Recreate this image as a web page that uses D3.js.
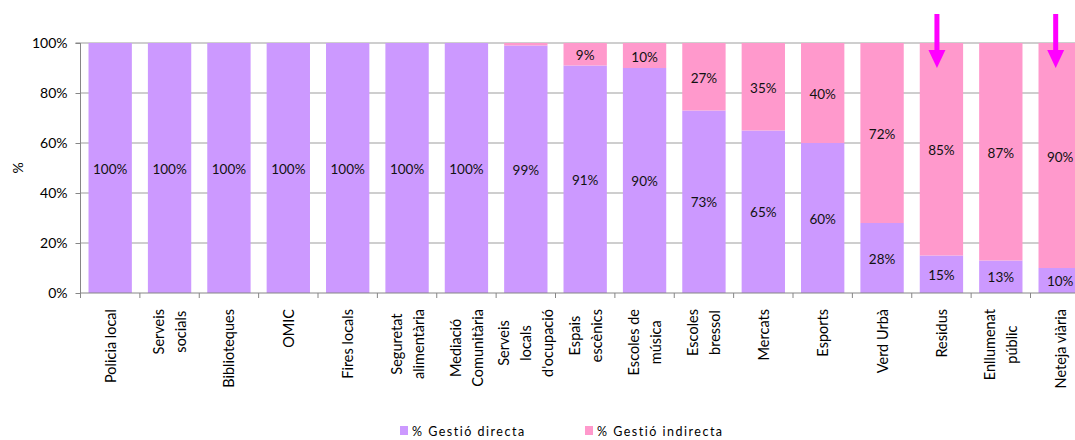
<!DOCTYPE html>
<html><head><meta charset="utf-8">
<script src="https://cdn.jsdelivr.net/npm/d3@7"></script>
<style>body{margin:0;background:#fff}svg{display:block}text{font-family:Lato,"Open Sans",sans-serif}</style>
</head><body><svg id="c" width="1075" height="440"></svg>
<script>
const categories = [
  ["Policia local"], ["Serveis","socials"], ["Biblioteques"], ["OMIC"], ["Fires locals"],
  ["Seguretat","alimentària"], ["Mediació","Comunitària"], ["Serveis","locals","d'ocupació"],
  ["Espais","escènics"], ["Escoles de","música"], ["Escoles","bressol"], ["Mercats"],
  ["Esports"], ["Verd Urbà"], ["Residus"], ["Enllumenat","públic"], ["Neteja viària"]
];
const directa   = [100,100,100,100,100,100,100,99,91,90,73,65,60,28,15,13,10];
const indirecta = [0,0,0,0,0,0,0,1,9,10,27,35,40,72,85,87,90];
const seriesNames = ["% Gestió directa","% Gestió indirecta"];
const yTicks = [0,20,40,60,80,100];
const arrowCats = [14,16];

const colors = ["#CC99FF","#FF99CC"];
const svg = d3.select("#c");
const pLeft = 80.5, step = 59.375, pTop = 43, pBottom = 293;
const idx = d3.range(categories.length);
const x = d3.scaleBand().domain(idx).range([pLeft, pLeft + step*categories.length]).paddingInner(0.27).paddingOuter(0.135);
const y = d3.scaleLinear().domain([0,100]).range([pBottom, pTop]);

// gridlines
svg.append("g").selectAll("line").data(yTicks.filter(t=>t>0)).join("line")
  .attr("x1", pLeft).attr("x2", 1075).attr("y1", d=>y(d)).attr("y2", d=>y(d))
  .attr("stroke", "#BEBEBE").attr("stroke-width", 1.3);

// bars
const rows = idx.map(i => ({i, d: directa[i], n: indirecta[i]}));
svg.append("g").selectAll("rect").data(rows).join("rect")
  .attr("x", r=>x(r.i)).attr("width", x.bandwidth())
  .attr("y", r=>y(r.d)).attr("height", r=>y(0)-y(r.d)).attr("fill", colors[0]);
svg.append("g").selectAll("rect").data(rows.filter(r=>r.n>0)).join("rect")
  .attr("x", r=>x(r.i)).attr("width", x.bandwidth())
  .attr("y", r=>y(r.d+r.n)).attr("height", r=>y(r.d)-y(r.d+r.n)).attr("fill", colors[1]);

// data labels
const lab = svg.append("g").attr("font-size", 13.5).attr("fill", "#111").attr("text-anchor","middle").attr("dominant-baseline","central");
lab.selectAll("text.d").data(rows).join("text").attr("class","d")
  .attr("x", r=>x(r.i)+x.bandwidth()/2).attr("y", r=>y(r.d/2)+0.5).text(r=>r.d+"%");
lab.selectAll("text.n").data(rows.filter(r=>r.n>=5)).join("text").attr("class","n")
  .attr("x", r=>x(r.i)+x.bandwidth()/2).attr("y", r=>y(r.d+r.n/2)+1).text(r=>r.n+"%");

// y axis
const ya = svg.append("g").attr("transform", `translate(${pLeft},0)`)
  .call(d3.axisLeft(y).tickValues(yTicks).tickFormat(d=>d+"%").tickSize(5).tickPadding(8));
ya.select(".domain").attr("stroke","#868686").attr("d", `M-5,${pTop}H0V${pBottom}`);
ya.selectAll(".tick line").attr("stroke","#868686");
ya.selectAll("text").attr("font-size",14).attr("font-family","Lato").attr("fill","#000");
svg.append("text").attr("transform","translate(17,168) rotate(-90)").attr("text-anchor","middle")
  .attr("dominant-baseline","central").attr("font-size",14).text("%");

// x axis
svg.append("line").attr("x1",pLeft).attr("x2",1075).attr("y1",pBottom).attr("y2",pBottom).attr("stroke","#868686");
svg.append("g").selectAll("line").data(d3.range(categories.length+1)).join("line")
  .attr("x1", i=>pLeft+i*step).attr("x2", i=>pLeft+i*step).attr("y1",pBottom).attr("y2",pBottom+5).attr("stroke","#868686");

// x labels
const xl = svg.append("g").attr("font-size",14.5).attr("fill","#000");
idx.forEach(i => {
  const lines = categories[i];
  const cx = x(i)+x.bandwidth()/2;
  const g = xl.append("g");
  const ts = lines.map((t,k) => g.append("text").attr("text-anchor","middle").attr("dominant-baseline","central").text(t));
  const w = d3.max(ts, t=>t.node().getComputedTextLength());
  const yc = 309 + w/2;
  ts.forEach((t,k) => {
    const off = (k - (lines.length-1)/2) * 22;
    t.attr("transform", `translate(${cx+off},${yc}) rotate(-90)`);
  });
});

// legend
const leg = svg.append("g").attr("font-size",12.5).attr("letter-spacing","1.5px");
[[400,412],[585,597]].forEach(([sx,tx],k)=>{
  leg.append("rect").attr("x",sx).attr("y",426).attr("width",8).attr("height",9).attr("fill",colors[k]);
  leg.append("text").attr("x",tx).attr("y",431).attr("dominant-baseline","central").text(seriesNames[k]);
});

// arrows
const ar = svg.append("g").attr("fill","#FF00FF");
arrowCats.forEach(i=>{
  const cx = x(i)+x.bandwidth()/2 - 4.5;
  ar.append("rect").attr("x",cx-2.5).attr("y",14).attr("width",5).attr("height",37);
  ar.append("path").attr("d",`M${cx-8.5},50L${cx+8.5},50L${cx},68Z`);
});
</script></body></html>
